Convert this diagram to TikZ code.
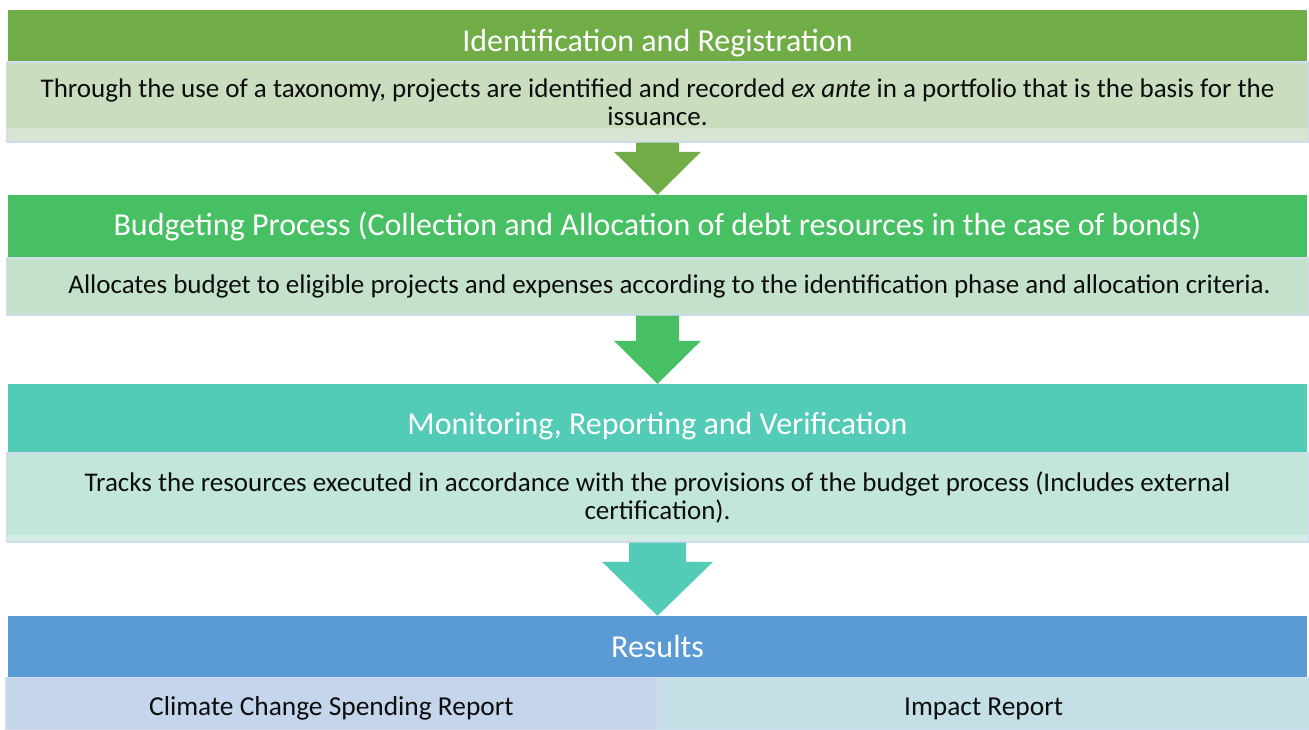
\documentclass[tikz,border=0pt]{standalone}
\usepackage{fontspec}
\setmainfont{Carlito}
\usetikzlibrary{calc}

\definecolor{idhead}{HTML}{70AD47}
\definecolor{iddesc}{HTML}{CADDBF}
\definecolor{idstrip}{HTML}{D8E5D2}
\definecolor{budhead}{HTML}{47BF63}
\definecolor{buddesc}{HTML}{C4E2CB}
\definecolor{monhead}{HTML}{52CBB7}
\definecolor{mondesc}{HTML}{C2E6DA}
\definecolor{monstrip}{HTML}{D3ECE4}
\definecolor{reshead}{HTML}{5B9BD5}
\definecolor{resleft}{HTML}{C5D6EC}
\definecolor{resright}{HTML}{C4E0E6}
\definecolor{edge}{HTML}{CFDCEC}

\tikzset{
  headbox/.style={fill=#1, text=white, minimum width=1299pt, inner sep=0pt,
    font=\fontsize{32}{38}\selectfont},
  descbox/.style={fill=#1, draw=edge, line width=1.2pt, minimum width=1302pt,
    inner sep=0pt, align=center, text=black!95, font=\fontsize{27}{28.5}\selectfont},
  strip/.style 2 args={path picture={\fill[#1] ([yshift=#2]path picture bounding box.south west)
    rectangle (path picture bounding box.south east);}},
  resbox/.style={fill=#1, draw=edge, line width=1.2pt, minimum width=651pt,
    minimum height=52pt, inner sep=0pt, text=black!95, font=\fontsize{27.4}{30}\selectfont}
}

% block arrow: from, to, half shaft, half head, head length, colour
\newcommand{\stagearrow}[6]{%
  \fill[#6] ($(#1.south)+(-#3,0)$) -- ($(#1.south)+(#3,0)$) -- ($(#2.north)+(#3,-#5)$)
    -- ($(#2.north)+(#4,-#5)$) -- (#2.north) -- ($(#2.north)+(-#4,-#5)$)
    -- ($(#2.north)+(-#3,-#5)$) -- cycle;}

\begin{document}
\begin{tikzpicture}[x=1pt,y=-1pt]
  \useasboundingbox[fill=white] (0,0) rectangle (1309,729);

  % identification
  \node[headbox=idhead, minimum height=52pt, text height=31pt, text depth=0pt] (h1) at (657.5,36)
    {Identification and Registration};
  \node[descbox=iddesc, strip={idstrip}{14pt}, minimum height=80pt] (d1) at (657.5,102)
    {Through the use of a taxonomy, projects are identified and recorded \textit{ex ante} in a portfolio that is the basis for the\\issuance.};

  % budgeting
  \node[headbox=budhead, minimum height=63pt] (h2) at (657.5,226.5)
    {Budgeting Process (Collection and Allocation of debt resources in the case of bonds)};
  \node[descbox=buddesc, minimum height=57pt] (d2) at (657.5,286.5)
    {\hspace*{24pt}Allocates budget to eligible projects and expenses according to the identification phase and allocation criteria.};

  % monitoring
  \node[headbox=monhead, minimum height=69pt, text height=32pt, text depth=0pt] (h3) at (657.5,418.5)
    {Monitoring, Reporting and Verification};
  \node[descbox=mondesc, strip={monstrip}{7pt}, minimum height=89pt] (d3) at (657.5,497.5)
    {Tracks the resources executed in accordance with the provisions of the budget process (Includes external\\certification).};

  % results
  \node[headbox=reshead, minimum height=61pt] (h4) at (657.5,646.5) {Results};
  \node[resbox=resleft, anchor=north east, text height=25pt, text depth=1pt] (r1) at (h4.south)
    {Climate Change Spending Report};
  \node[resbox=resright, anchor=north west, text height=25pt, text depth=1pt] (r2) at (h4.south)
    {Impact Report};

  \stagearrow{d1}{h2}{21.5}{43.5}{43}{idhead}
  \stagearrow{d2}{h3}{21.5}{43.5}{43}{budhead}
  \stagearrow{d3}{h4}{28.5}{55.5}{54}{monhead}
\end{tikzpicture}
\end{document}
